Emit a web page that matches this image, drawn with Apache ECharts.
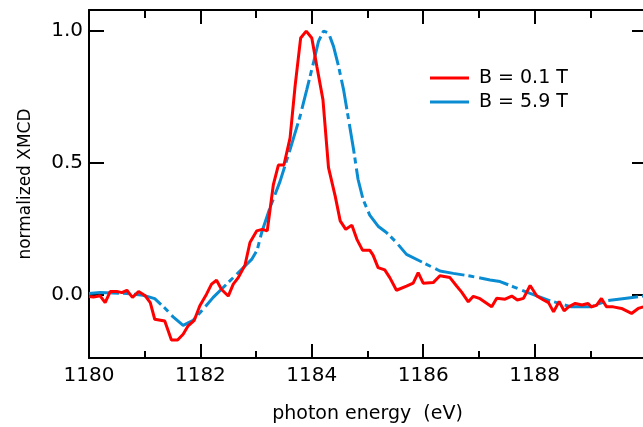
<!DOCTYPE html>
<html>
<head>
<meta charset="utf-8">
<script src="https://cdn.jsdelivr.net/npm/echarts@6/dist/echarts.min.js"></script>
<style>
  html, body { margin: 0; padding: 0; background: #fff; }
  #main { width: 643px; height: 427px; }
</style>
</head>
<body>
<div id="main"></div>
<script>
// photon energy (eV) / normalized XMCD
var lowField = [
    [1180.00, -0.007], [1180.08, -0.009], [1180.20, -0.004], [1180.29, -0.030],
    [1180.38, 0.012], [1180.50, 0.012], [1180.59, 0.008], [1180.68, 0.017],
    [1180.78, -0.010], [1180.89, 0.012], [1181.01, -0.004], [1181.10, -0.030],
    [1181.18, -0.093], [1181.36, -0.100], [1181.48, -0.172], [1181.59, -0.172],
    [1181.69, -0.150], [1181.78, -0.118], [1181.89, -0.097], [1181.99, -0.042],
    [1182.11, 0.002], [1182.20, 0.040], [1182.29, 0.055], [1182.38, 0.020],
    [1182.50, -0.005], [1182.59, 0.040], [1182.68, 0.065], [1182.80, 0.112],
    [1182.89, 0.198], [1183.01, 0.242], [1183.11, 0.248], [1183.20, 0.242],
    [1183.31, 0.418], [1183.40, 0.492], [1183.50, 0.492], [1183.61, 0.595],
    [1183.70, 0.791], [1183.80, 0.974], [1183.90, 1.000], [1184.00, 0.974],
    [1184.09, 0.867], [1184.20, 0.740], [1184.30, 0.482], [1184.42, 0.374],
    [1184.51, 0.280], [1184.61, 0.248], [1184.72, 0.264], [1184.81, 0.210],
    [1184.91, 0.169], [1185.04, 0.169], [1185.10, 0.150], [1185.19, 0.103],
    [1185.31, 0.094], [1185.40, 0.065], [1185.52, 0.017], [1185.70, 0.033],
    [1185.82, 0.044], [1185.91, 0.084], [1186.00, 0.044], [1186.18, 0.046],
    [1186.30, 0.072], [1186.48, 0.065], [1186.60, 0.033], [1186.69, 0.010],
    [1186.81, -0.027], [1186.90, -0.006], [1187.02, -0.015], [1187.23, -0.046],
    [1187.32, -0.013], [1187.47, -0.017], [1187.59, -0.005], [1187.69, -0.020],
    [1187.80, -0.014], [1187.92, 0.035], [1188.04, -0.005], [1188.16, -0.020],
    [1188.25, -0.030], [1188.34, -0.065], [1188.44, -0.026], [1188.53, -0.061],
    [1188.61, -0.046], [1188.73, -0.033], [1188.85, -0.039], [1188.96, -0.033],
    [1189.02, -0.046], [1189.11, -0.040], [1189.20, -0.014], [1189.29, -0.046],
    [1189.41, -0.046], [1189.56, -0.052], [1189.74, -0.071], [1189.86, -0.052],
    [1189.95, -0.046]
]

var highField = [
    [1180.00, 0.005], [1180.20, 0.008], [1180.68, 0.005], [1180.97, -0.002],
    [1181.18, -0.015], [1181.36, -0.050], [1181.51, -0.084], [1181.69, -0.116],
    [1181.87, -0.097], [1182.05, -0.055], [1182.23, -0.010], [1182.47, 0.040],
    [1182.71, 0.090], [1182.92, 0.134], [1183.02, 0.170], [1183.10, 0.236],
    [1183.25, 0.330], [1183.43, 0.430], [1183.61, 0.551], [1183.79, 0.677],
    [1183.91, 0.778], [1184.03, 0.880], [1184.12, 0.961], [1184.21, 1.000],
    [1184.30, 0.993], [1184.39, 0.942], [1184.48, 0.867], [1184.57, 0.778],
    [1184.66, 0.665], [1184.75, 0.551], [1184.83, 0.438], [1184.92, 0.362],
    [1185.04, 0.302], [1185.19, 0.260], [1185.34, 0.236], [1185.52, 0.198],
    [1185.70, 0.153], [1185.94, 0.128], [1186.12, 0.109], [1186.30, 0.090],
    [1186.54, 0.081], [1186.84, 0.071], [1187.20, 0.056], [1187.38, 0.050],
    [1187.62, 0.030], [1187.92, 0.005], [1188.28, -0.023], [1188.66, -0.046],
    [1189.02, -0.046], [1189.29, -0.023], [1189.65, -0.013], [1189.95, -0.005]
]

var seriesNames = ['B = 0.1 T', 'B = 5.9 T']
var yTicks = [0, 0.5, 1.0]

var font = 'DejaVu Sans'
var axisLine = {onZero: false, lineStyle: {color: '#000', width: 2}}

myChart = echarts.init(document.getElementById('main'))

option = {
    animation: false,
    grid: {left: 89, top: 10, width: 557, height: 348, outerBoundsMode: 'none'},
    legend: {
        orient: 'vertical',
        left: 430,
        top: 67,
        padding: 0,
        icon: 'rect',
        itemWidth: 39,
        itemHeight: 3,
        itemGap: 2,
        data: seriesNames,
        textStyle: {fontFamily: font, fontSize: 19, color: '#000', lineHeight: 22, padding: [0, 0, 0, 5]}
    },
    xAxis: [
        {
            type: 'value',
            min: 1180,
            max: 1190,
            interval: 2,
            position: 'bottom',
            name: 'photon energy  (eV)',
            nameLocation: 'middle',
            nameGap: 47,
            nameTextStyle: {fontFamily: font, fontSize: 19, color: '#000'},
            axisLine: axisLine,
            axisTick: {inside: true, length: 14, lineStyle: {color: '#000', width: 2}},
            minorTick: {show: true, splitNumber: 2, length: 7, lineStyle: {color: '#000', width: 2}},
            axisLabel: {
                margin: 8, fontFamily: font, fontSize: 20, color: '#000',
                showMaxLabel: false,
                formatter: function (v) { return String(v) }
            },
            splitLine: {show: false}
        },
        {
            type: 'value',
            min: 1180,
            max: 1190,
            interval: 2,
            position: 'top',
            axisLine: axisLine,
            axisTick: {inside: true, length: 14, lineStyle: {color: '#000', width: 2}},
            minorTick: {show: true, splitNumber: 2, length: 8, lineStyle: {color: '#000', width: 2}},
            axisLabel: {show: false},
            splitLine: {show: false}
        }
    ],
    yAxis: [
        {
            type: 'value',
            min: -0.24,
            max: 1.08,
            position: 'left',
            name: 'normalized XMCD',
            nameLocation: 'middle',
            nameGap: 55,
            nameTextStyle: {fontFamily: font, fontSize: 17, color: '#000'},
            axisLine: axisLine,
            axisTick: {inside: true, length: 15, customValues: yTicks, lineStyle: {color: '#000', width: 2}},
            axisLabel: {
                margin: 6, fontFamily: font, fontSize: 20, color: '#000',
                customValues: yTicks,
                formatter: function (v) { return v.toFixed(1) }
            },
            splitLine: {show: false}
        },
        {
            type: 'value',
            min: -0.24,
            max: 1.08,
            position: 'right',
            axisLine: axisLine,
            axisTick: {inside: true, length: 14, customValues: yTicks, lineStyle: {color: '#000', width: 2}},
            axisLabel: {show: false},
            splitLine: {show: false}
        }
    ],
    series: [
        {
            name: seriesNames[1],
            type: 'line',
            symbol: 'none',
            color: '#0a8cd2',
            lineStyle: {width: 3, color: '#0a8cd2', type: [30, 4, 6, 5]},
            data: highField
        },
        {
            name: seriesNames[0],
            type: 'line',
            symbol: 'none',
            color: '#ff0000',
            lineStyle: {width: 3, color: '#ff0000'},
            data: lowField
        }
    ]
}

myChart.setOption(option)
</script>
</body>
</html>
